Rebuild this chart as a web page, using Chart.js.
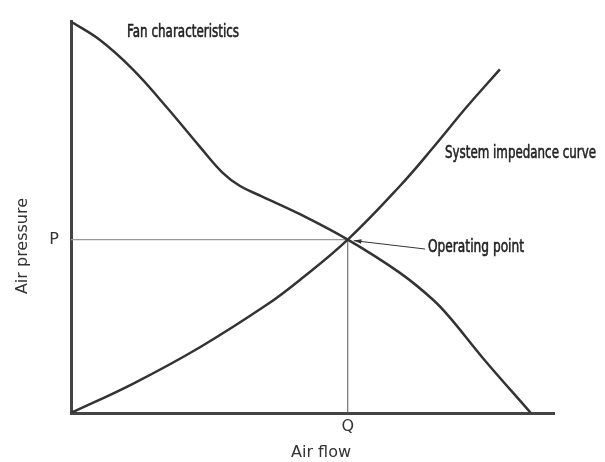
<!DOCTYPE html>
<html>
<head>
<meta charset="utf-8">
<script src="https://cdn.jsdelivr.net/npm/chart.js@4.4.1/dist/chart.umd.min.js"></script>
<style>
  body { margin: 0; background: #fff; }
  #wrap { width: 605px; height: 462px; }
</style>
</head>
<body>
<div id="wrap"><canvas id="fanChart"></canvas></div>
<script>
// data (axis range 0..100 on both)
const fanFlow     = [0, 6, 12.8, 19.9, 26.7, 31.3, 35.0, 39.6, 47.4, 57.3, 68.1, 74.9, 78.5, 85.3, 95.2];
const fanPressure = [100, 95.3, 87.8, 78, 68, 61.5, 58, 55.3, 50.8, 44.3, 35.8, 29, 24.3, 14, 0];
const sysFlow     = [0, 12.8, 26.7, 40.6, 47.4, 57.3, 68.1, 74.9, 82.0, 88.8];
const sysPressure = [0, 7.45, 16.8, 27.7, 34, 44.3, 58, 67.7, 78.3, 87.8];
const opFlow = 57.3;
const opPressure = 44.3;
const tickLabelX = 'Q';
const tickLabelY = 'P';

const toPts = (xs, ys) => xs.map((x, i) => ({ x: x, y: ys[i] }));

const plain = '"DejaVu Sans", sans-serif';

// condensed look: squeeze the text to the width seen in the picture
function narrowText(c, text, x, y, w) {
    const m = c.measureText(text).width;
    c.save();
    c.translate(x, y);
    c.scale(w / m, 1);
    c.fillText(text, 0, 0);
    c.strokeText(text, 0, 0);
    c.restore();
}

// texts, arrow and axis titles
const notes = {
    id: 'notes',
    afterDatasetsDraw(chart) {
        const c = chart.ctx;
        const xs = chart.scales.x, ys = chart.scales.y;
        c.save();
        c.fillStyle = '#222';
        c.strokeStyle = '#222';
        c.lineWidth = 0.6;
        c.font = '17px "DejaVu Sans", sans-serif';
        c.textBaseline = 'middle';
        c.textAlign = 'left';
        narrowText(c, 'Fan characteristics', 127, 33, 112);
        narrowText(c, 'System impedance curve', 445, 154, 151);
        narrowText(c, 'Operating point', 428, 248, 96);

        // arrow to operating point
        const px = xs.getPixelForValue(opFlow), py = ys.getPixelForValue(opPressure);
        const tx = px + 6, ty = py + 1;
        const sx = 425, sy = 249;
        c.strokeStyle = '#333';
        c.lineWidth = 1;
        c.beginPath();
        c.moveTo(sx, sy);
        c.lineTo(tx, ty);
        c.stroke();
        const a = Math.atan2(ty - sy, tx - sx);
        c.fillStyle = '#333';
        c.beginPath();
        c.moveTo(tx, ty);
        c.lineTo(tx - 8 * Math.cos(a - 0.3), ty - 8 * Math.sin(a - 0.3));
        c.lineTo(tx - 8 * Math.cos(a + 0.3), ty - 8 * Math.sin(a + 0.3));
        c.closePath();
        c.fill();

        // axis titles
        c.fillStyle = '#333';
        c.font = '16px ' + plain;
        c.textAlign = 'center';
        c.fillText('Air flow', 321, 453);
        c.translate(23, 246);
        c.rotate(-Math.PI / 2);
        c.fillText('Air pressure', 0, 0);
        c.restore();
    }
};

new Chart(document.getElementById('fanChart'), {
    type: 'line',
    data: {
        datasets: [
            {
                data: toPts(fanFlow, fanPressure),
                borderColor: '#333',
                borderWidth: 2.5,
                tension: 0.4,
                pointRadius: 0,
                order: 1
            },
            {
                data: toPts(sysFlow, sysPressure),
                borderColor: '#333',
                borderWidth: 2.5,
                tension: 0.4,
                pointRadius: 0,
                order: 1
            },
            {
                data: [{ x: 0, y: opPressure }, { x: opFlow, y: opPressure }],
                borderColor: '#999',
                borderWidth: 1.2,
                pointRadius: 0,
                order: 2
            },
            {
                data: [{ x: opFlow, y: 0 }, { x: opFlow, y: opPressure }],
                borderColor: '#555',
                borderWidth: 1,
                pointRadius: 0,
                order: 2
            }
        ]
    },
    options: {
        responsive: true,
        maintainAspectRatio: false,
        animation: false,
        layout: { padding: { top: 13, right: 51, left: 0, bottom: 0 } },
        plugins: { legend: { display: false }, tooltip: { enabled: false } },
        scales: {
            x: {
                type: 'linear', min: 0, max: 100,
                grid: { display: false, drawTicks: false },
                border: { display: true, color: '#444', width: 3 },
                afterBuildTicks: s => { s.ticks = [{ value: opFlow }]; },
                afterFit: s => { s.height = 49; },
                ticks: {
                    padding: 4, color: '#333', font: { family: plain, size: 16 },
                    callback: () => tickLabelX
                }
            },
            y: {
                type: 'linear', min: 0, max: 100,
                grid: { display: false, drawTicks: false },
                border: { display: true, color: '#444', width: 3 },
                afterBuildTicks: s => { s.ticks = [{ value: opPressure }]; },
                afterFit: s => { s.width = 71; },
                ticks: {
                    padding: 12, color: '#333', font: { family: plain, size: 16 },
                    callback: () => tickLabelY
                }
            }
        }
    },
    plugins: [notes]
});
</script>
</body>
</html>
